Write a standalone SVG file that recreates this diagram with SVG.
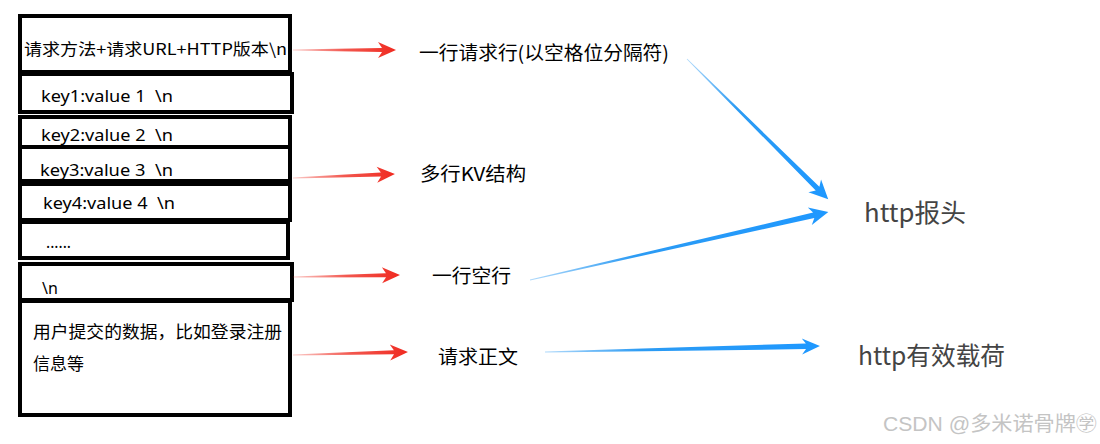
<svg xmlns="http://www.w3.org/2000/svg" width="1100" height="444" viewBox="0 0 1100 444">
  <defs>
    <style>
      .box { fill: #ffffff; stroke: #000000; stroke-width: 4; }
      .t { font-family: "Noto Sans CJK SC", "Noto Sans", sans-serif; fill: #000000; }
      .k { font-family: "Noto Sans", "Noto Sans CJK SC", sans-serif; font-size: 16px; fill: #000000; }
      .lbl { font-family: "Noto Sans CJK SC", sans-serif; font-size: 19px; fill: #000000; }
      .big { font-family: "Noto Sans CJK SC", sans-serif; font-size: 25px; fill: #444444; }
      .wm { font-family: "Liberation Sans", "Noto Sans CJK SC", sans-serif; font-size: 20px; fill: #c4c4c4; }
      .red { fill: url(#gRed); }
      .blue { fill: url(#gBlue); }
    </style>
    <linearGradient id="gRed" x1="0" y1="0" x2="1" y2="0">
      <stop offset="0" stop-color="#f03a30" stop-opacity="0.25"/>
      <stop offset="0.5" stop-color="#f03a30" stop-opacity="0.85"/>
      <stop offset="1" stop-color="#f02a20"/>
    </linearGradient>
    <linearGradient id="gBlue" x1="0" y1="0" x2="1" y2="0">
      <stop offset="0" stop-color="#2196f3" stop-opacity="0.35"/>
      <stop offset="0.35" stop-color="#2196f3" stop-opacity="0.95"/>
      <stop offset="1" stop-color="#1e98ff"/>
    </linearGradient>
  </defs>
  <rect width="1100" height="444" fill="#ffffff"/>

  <g id="box-request-line">
    <rect class="box" x="20" y="16" width="270" height="56"/>
    <text class="t" x="24" y="55" font-size="16" textLength="263" lengthAdjust="spacingAndGlyphs">请求方法+请求URL+HTTP版本\n</text>
  </g>
  <g id="box-key1">
    <rect class="box" x="20" y="74" width="272" height="38"/>
    <text class="k" x="41" y="102" textLength="132" lengthAdjust="spacingAndGlyphs" xml:space="preserve">key1:value 1  \n</text>
  </g>
  <g id="box-key2">
    <rect class="box" x="20" y="117" width="270" height="30"/>
    <text class="k" x="41" y="141" textLength="132" lengthAdjust="spacingAndGlyphs" xml:space="preserve">key2:value 2  \n</text>
  </g>
  <g id="box-key3">
    <rect class="box" x="20" y="147" width="270" height="34" fill="none"/>
    <text class="k" x="40" y="176" textLength="133" lengthAdjust="spacingAndGlyphs" xml:space="preserve">key3:value 3  \n</text>
  </g>
  <g id="box-key4">
    <rect class="box" x="20" y="184" width="270" height="36"/>
    <text class="k" x="43" y="209" textLength="132" lengthAdjust="spacingAndGlyphs" xml:space="preserve">key4:value 4  \n</text>
  </g>
  <g id="box-more">
    <rect class="box" x="20" y="222" width="268" height="36"/>
    <text class="k" x="46" y="248" textLength="25" lengthAdjust="spacingAndGlyphs">......</text>
  </g>
  <g id="box-empty-line">
    <rect class="box" x="20" y="264" width="272" height="36" stroke-width="5"/>
    <text class="k" x="42" y="294">\n</text>
  </g>
  <g id="box-body">
    <rect class="box" x="20" y="301" width="270" height="114"/>
    <text class="t" x="33" y="338" font-size="17" textLength="249" lengthAdjust="spacingAndGlyphs">用户提交的数据，比如登录注册</text>
    <text class="t" x="33" y="370" font-size="17">信息等</text>
  </g>

  <g id="label-request-line">
    <text class="lbl" x="419" y="60" font-size="20" textLength="250" lengthAdjust="spacingAndGlyphs">一行请求行(以空格位分隔符)</text>
  </g>
  <g id="label-kv">
    <text class="lbl" x="420" y="181" textLength="106" lengthAdjust="spacingAndGlyphs">多行KV结构</text>
  </g>
  <g id="label-empty-line">
    <text class="lbl" x="432" y="283" textLength="79" lengthAdjust="spacingAndGlyphs">一行空行</text>
  </g>
  <g id="label-body">
    <text class="lbl" x="438" y="364" textLength="80" lengthAdjust="spacingAndGlyphs">请求正文</text>
  </g>
  <g id="label-http-header">
    <text class="big" x="864" y="222" textLength="102" lengthAdjust="spacingAndGlyphs">http报头</text>
  </g>
  <g id="label-http-payload">
    <text class="big" x="858" y="365" textLength="147" lengthAdjust="spacingAndGlyphs">http有效载荷</text>
  </g>

  <g id="connectors">
    <path class="red" transform="translate(293,50)" d="M0,-0.6 L89,-2 L85,-8 L103,0 L85,8 L89,2 L0,0.6 Z"/>
    <path class="red" transform="translate(293,178) rotate(-2.25)" d="M0,-0.6 L88,-2 L84,-8 L102,0 L84,8 L88,2 L0,0.6 Z"/>
    <path class="red" transform="translate(293,277) rotate(-1.07)" d="M0,-0.6 L93,-2 L89,-8 L107,0 L89,8 L93,2 L0,0.6 Z"/>
    <path class="red" transform="translate(293,355) rotate(-1.49)" d="M0,-0.6 L101,-2 L97,-8 L115,0 L97,8 L101,2 L0,0.6 Z"/>
    <path class="blue" transform="translate(687,59) rotate(44.8)" d="M0,-0.4 L184,-2.6 L180,-9 L199,0 L180,9 L184,2.6 L0,0.4 Z"/>
    <path class="blue" transform="translate(530,280) rotate(-12.85)" d="M0,-0.4 L291,-2.8 L287,-9 L306,0 L287,9 L291,2.8 L0,0.4 Z"/>
    <path class="blue" transform="translate(545,352) rotate(-1.25)" d="M0,-0.5 L261,-2.8 L257,-8 L275,0 L257,8 L261,2.8 L0,0.5 Z"/>
  </g>

  <g id="watermark">
    <text class="wm" x="883" y="431" textLength="214" lengthAdjust="spacingAndGlyphs">CSDN @多米诺骨牌㊫</text>
  </g>
</svg>
